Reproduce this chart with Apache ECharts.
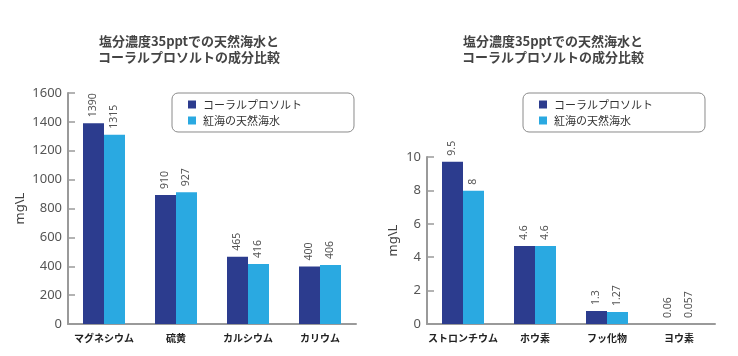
<!DOCTYPE html>
<html><head><meta charset="utf-8">
<script src="https://cdn.jsdelivr.net/npm/echarts@6/dist/echarts.min.js"></script>
<style>html,body{margin:0;padding:0;background:#fff}#c{width:738px;height:356px}</style>
</head><body><div id="c"></div>
<script>
const seriesNames = ['コーラルプロソルト', '紅海の天然海水'];
const titleText = '塩分濃度35pptでの天然海水と\nコーラルプロソルトの成分比較';

const categoriesLeft = ['マグネシウム', '硫黄', 'カルシウム', 'カリウム'];
const coralLeft = [1390, 893, 466, 399];
const redSeaLeft = [1310, 913, 415, 408];
const coralLeftLabels = ['1390', '910', '465', '400'];
const redSeaLeftLabels = ['1315', '927', '416', '406'];

const categoriesRight = ['ストロンチウム', 'ホウ素', 'フッ化物', 'ヨウ素'];
const coralRight = [9.72, 4.67, 0.78, 0];
const redSeaRight = [7.98, 4.67, 0.72, 0];
const coralRightLabels = ['9.5', '4.6', '1.3', '0.06'];
const redSeaRightLabels = ['8', '4.6', '1.27', '0.057'];

const yNameText = 'mg\\L';

const DARK = '#2c3c8e', LIGHT = '#2aa9e1';
const AXIS = '#9a9a9a';
const CJK = "'Noto Sans CJK JP', 'Noto Sans', sans-serif";
const NUM = "'Noto Sans', sans-serif";

const chart = echarts.init(document.getElementById('c'), null, {renderer: 'canvas'});

function title(x) {
  return {
    text: titleText, left: x, top: 28, textAlign: 'center',
    textStyle: {fontSize: 13, fontWeight: 'bold', color: '#444', lineHeight: 16, fontFamily: CJK}
  };
}
function legend(x) {
  return {
    data: seriesNames, orient: 'vertical', left: x, top: 93,
    itemWidth: 8, itemHeight: 8, itemGap: 5,
    icon: 'rect',
    borderColor: '#8a8a8a', borderWidth: 1, borderRadius: 6,
    padding: [6, 52, 6, 16],
    textStyle: {fontSize: 11, color: '#333', fontFamily: CJK, padding: [0, 0, 0, 2]}
  };
}
function xAxis(gi, cats) {
  return {
    type: 'category', gridIndex: gi, data: cats,
    axisLine: {lineStyle: {color: AXIS, width: 2}},
    axisTick: {show: false},
    axisLabel: {fontSize: 10, fontWeight: 'bold', color: '#222', margin: 9, fontFamily: CJK, interval: 0}
  };
}
function yAxis(gi, max, interval, gap) {
  return {
    type: 'value', gridIndex: gi, min: 0, max: max, interval: interval,
    name: yNameText, nameLocation: 'middle', nameGap: gap, nameRotate: 90,
    nameTextStyle: {fontSize: 13, color: '#444', fontFamily: NUM},
    axisLine: {show: true, lineStyle: {color: AXIS, width: 2}},
    axisTick: {show: true, inside: true, length: 7, lineStyle: {color: AXIS, width: 1.5}},
    axisLabel: {fontSize: 13, color: '#555', margin: 6, fontFamily: NUM, formatter: v => String(v)},
    splitLine: {show: false}
  };
}
function bar(name, gi, data, labels, color) {
  return {
    type: 'bar', name: name, xAxisIndex: gi, yAxisIndex: gi, data: data,
    barWidth: 21, barGap: '0%',
    itemStyle: {color: color},
    label: {
      show: true, position: 'top', rotate: 90, distance: 6,
      align: 'left', verticalAlign: 'middle',
      fontSize: 10.5, color: '#555', fontFamily: NUM,
      formatter: p => labels[p.dataIndex]
    }
  };
}

chart.setOption({
  animation: false,
  title: [title(184), title(548)],
  legend: [legend(172), legend(523)],
  grid: [
    {left: 68, top: 93, width: 288, bottom: 32},
    {left: 427, top: 157, width: 288, bottom: 32}
  ],
  xAxis: [xAxis(0, categoriesLeft), xAxis(1, categoriesRight)],
  yAxis: [yAxis(0, 1600, 200, 41), yAxis(1, 10, 2, 27)],
  series: [
    bar(seriesNames[0], 0, coralLeft, coralLeftLabels, DARK),
    bar(seriesNames[1], 0, redSeaLeft, redSeaLeftLabels, LIGHT),
    bar(seriesNames[0], 1, coralRight, coralRightLabels, DARK),
    bar(seriesNames[1], 1, redSeaRight, redSeaRightLabels, LIGHT)
  ]
});
</script></body></html>
